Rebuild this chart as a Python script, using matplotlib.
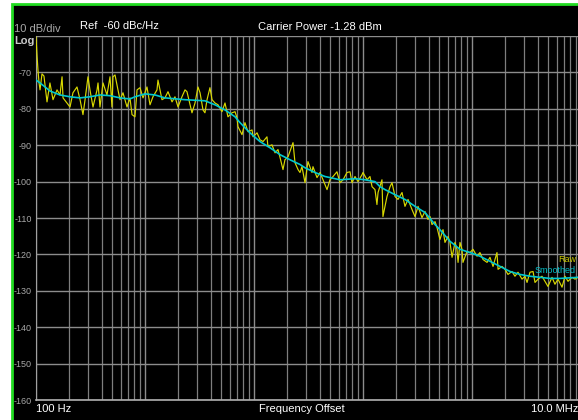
import matplotlib
matplotlib.use("Agg")
import matplotlib.pyplot as plt
from matplotlib.patches import Rectangle
from matplotlib.ticker import LogLocator, NullFormatter, FixedLocator

plt.rcParams['font.family'] = ['Liberation Sans', 'DejaVu Sans']

# ---------------- data (log10 of offset frequency in Hz, phase noise in dBc/Hz)
raw_log_freq = [
    2.000, 2.009, 2.018, 2.028, 2.037, 2.055, 2.073, 2.101, 2.128, 2.156,
    2.193, 2.220, 2.239, 2.248, 2.284, 2.312, 2.339, 2.376, 2.404, 2.431,
    2.450, 2.477, 2.495, 2.523, 2.560, 2.569, 2.587, 2.615, 2.651, 2.679,
    2.697, 2.706, 2.725, 2.752, 2.771, 2.798, 2.835, 2.862, 2.881, 2.908,
    2.927, 2.954, 2.982, 3.018, 3.046, 3.073, 3.110, 3.119, 3.156, 3.183,
    3.211, 3.248, 3.275, 3.303, 3.339, 3.367, 3.385, 3.413, 3.431, 3.459,
    3.486, 3.505, 3.532, 3.550, 3.569, 3.596, 3.615, 3.642, 3.670, 3.706,
    3.734, 3.761, 3.798, 3.826, 3.844, 3.853, 3.890, 3.917, 3.945, 3.982,
    3.991, 4.028, 4.055, 4.083, 4.119, 4.128, 4.165, 4.193, 4.220, 4.239,
    4.266, 4.284, 4.312, 4.358, 4.376, 4.404, 4.422, 4.440, 4.468, 4.495,
    4.532, 4.541, 4.578, 4.606, 4.633, 4.670, 4.697, 4.725, 4.761, 4.789,
    4.817, 4.853, 4.881, 4.899, 4.927, 4.954, 4.991, 5.000, 5.037, 5.064,
    5.083, 5.110, 5.128, 5.138, 5.174, 5.183, 5.220, 5.248, 5.266, 5.294,
    5.321, 5.358, 5.385, 5.413, 5.450, 5.477, 5.505, 5.541, 5.569, 5.596,
    5.615, 5.633, 5.661, 5.679, 5.706, 5.734, 5.752, 5.780, 5.798, 5.817,
    5.844, 5.862, 5.872, 5.890, 5.908, 5.917, 5.954, 5.982, 6.009, 6.046,
    6.073, 6.101, 6.138, 6.165, 6.193, 6.229, 6.239, 6.275, 6.303, 6.330,
    6.367, 6.394, 6.422, 6.459, 6.486, 6.505, 6.532, 6.560, 6.578, 6.606,
    6.642, 6.670, 6.697, 6.734, 6.761, 6.789, 6.826, 6.853, 6.881, 6.917,
    6.945, 6.972,
]
raw_dbc = [
    -60.3, -65.2, -69.3, -72.9, -74.8, -70.4, -71.0, -78.1, -72.9, -77.5,
    -74.8, -76.2, -71.2, -77.0, -78.4, -79.5, -75.6, -74.0, -77.5, -81.6,
    -77.5, -71.2, -74.8, -79.5, -74.8, -72.9, -79.5, -72.9, -76.2, -71.2,
    -79.5, -71.2, -70.7, -74.8, -77.5, -75.6, -79.5, -77.0, -81.6, -82.2,
    -74.8, -74.2, -77.0, -74.0, -78.9, -76.7, -74.8, -72.1, -77.5, -77.0,
    -75.3, -78.1, -76.7, -79.5, -76.7, -74.8, -75.3, -78.9, -81.1, -78.4,
    -74.0, -75.6, -80.3, -81.1, -77.5, -74.2, -77.5, -78.4, -78.9, -80.8,
    -78.4, -82.2, -81.1, -80.8, -82.5, -84.9, -87.1, -83.8, -86.3, -85.8,
    -87.7, -86.6, -88.5, -89.0, -87.7, -90.4, -89.9, -92.1, -91.2, -93.4,
    -96.7, -94.0, -93.2, -89.3, -94.8, -96.7, -97.5, -95.9, -100.3, -94.5,
    -97.5, -95.9, -98.9, -97.5, -99.5, -102.2, -99.5, -98.6, -97.3, -100.3,
    -99.5, -97.5, -97.3, -100.3, -98.6, -100.0, -98.1, -97.5, -99.5, -98.6,
    -101.4, -102.2, -106.3, -103.0, -99.5, -109.6, -104.1, -101.4, -100.3, -104.1,
    -104.9, -103.0, -106.8, -104.9, -107.7, -109.6, -106.8, -109.9, -108.2, -110.4,
    -109.6, -111.8, -111.0, -112.6, -115.9, -113.2, -116.7, -115.1, -116.7, -120.8,
    -116.7, -118.6, -122.2, -116.7, -118.6, -122.2, -119.2, -119.5, -118.6, -120.5,
    -119.5, -121.4, -122.2, -120.8, -123.3, -119.5, -124.1, -123.3, -124.1, -125.5,
    -124.7, -126.0, -124.9, -126.8, -126.0, -127.7, -124.9, -124.7, -127.7, -126.8,
    -126.0, -127.4, -128.8, -126.3, -128.2, -126.8, -129.0, -126.0, -127.4, -126.3,
    -126.8, -126.3,
]
smooth_log_freq = [
    2.000, 2.037, 2.083, 2.128, 2.220, 2.312, 2.404, 2.495, 2.587, 2.679,
    2.771, 2.862, 2.908, 3.000, 3.092, 3.183, 3.367, 3.550, 3.642, 3.734,
    3.826, 3.872, 3.963, 4.055, 4.147, 4.239, 4.330, 4.422, 4.468, 4.560,
    4.651, 4.789, 4.927, 5.018, 5.110, 5.156, 5.202, 5.294, 5.385, 5.477,
    5.569, 5.661, 5.706, 5.798, 5.890, 5.982, 6.073, 6.165, 6.257, 6.349,
    6.440, 6.532, 6.624, 6.716, 6.807, 6.972,
]
smooth_dbc = [
    -72.1, -72.9, -74.0, -75.1, -76.2, -76.7, -77.0, -76.7, -76.2, -76.4,
    -77.0, -77.3, -76.7, -75.9, -76.2, -77.0, -77.5, -77.8, -78.9, -80.3,
    -82.2, -83.8, -86.6, -89.0, -90.7, -92.6, -94.0, -95.3, -96.2, -97.5,
    -98.6, -99.5, -99.2, -99.5, -100.0, -101.4, -102.2, -103.6, -104.9, -106.8,
    -108.5, -111.8, -113.2, -116.4, -118.6, -119.5, -120.5, -121.9, -123.3, -124.7,
    -125.5, -126.0, -126.3, -126.6, -126.6, -126.3,
]
y_ticks = [-160, -150, -140, -130, -120, -110, -100, -90, -80, -70, -60]
y_tick_labels = ['-160', '-150', '-140', '-130', '-120', '-110', '-100', '-90', '-80', '-70', '']
series_labels = ['Raw', 'Smoothed']

# ---------------- figure
W, H = 578, 420
fig = plt.figure(figsize=(W / 100, H / 100), dpi=100, facecolor='white')

def fx(px):
    return px / W

def fy(py):
    return 1 - py / H

# black instrument panel with green frame
fig.patches.append(Rectangle((fx(12), -0.05), 1.2, fy(4) + 0.05,
                             transform=fig.transFigure, facecolor='black',
                             edgecolor='#22dd22', lw=2, zorder=-5))

ax = fig.add_axes([fx(36), fy(400), fx(581) - fx(36), fy(36) - fy(400)])
ax.set_facecolor('black')
ax.set_xscale('log')
ax.set_xlim(1e2, 1e7)
ax.set_ylim(-160, -60)

grid_c = '#7e7e7e'
ax.xaxis.set_major_locator(LogLocator(base=10, numticks=20))
ax.xaxis.set_minor_locator(LogLocator(base=10, subs=range(2, 10), numticks=100))
ax.xaxis.set_major_formatter(NullFormatter())
ax.xaxis.set_minor_formatter(NullFormatter())
ax.yaxis.set_major_locator(FixedLocator(y_ticks))
ax.set_yticklabels(y_tick_labels)
ax.grid(True, which='major', color='#8c8c8c', lw=1)
ax.grid(True, which='minor', axis='x', color=grid_c, lw=0.9)
ax.tick_params(axis='both', which='both', length=0)
ax.tick_params(axis='y', labelsize=6.5, labelcolor='#a8a8a8', pad=3)
for s in ['top', 'right']:
    ax.spines[s].set_visible(False)
ax.spines['left'].set_color('#a0a0a0')
ax.spines['bottom'].set_color('#b0b0b0')
ax.spines['bottom'].set_linewidth(1.2)

raw_f = [10 ** v for v in raw_log_freq]
sm_f = [10 ** v for v in smooth_log_freq]
ax.plot(raw_f, raw_dbc, color='#d8d800', lw=0.85, zorder=3)
ax.plot(sm_f, smooth_dbc, color='#00c8d0', lw=1.2, zorder=4)

# annotations
fig.text(fx(14), fy(32), '10 dB/div', color='#a8a8a8', fontsize=8, va='baseline')
fig.text(fx(14), fy(44), 'Log', color='#c8c8c8', fontsize=8, va='baseline', fontweight='bold')
fig.text(fx(80), fy(29), 'Ref  -60 dBc/Hz', color='white', fontsize=8, va='baseline')
fig.text(fx(258), fy(30), 'Carrier Power -1.28 dBm', color='white', fontsize=8, va='baseline')
fig.text(fx(36), fy(412), '100 Hz', color='white', fontsize=8, va='baseline')
fig.text(fx(302), fy(412), 'Frequency Offset', color='white', fontsize=8, va='baseline', ha='center')
fig.text(fx(578), fy(412), '10.0 MHz', color='white', fontsize=8, va='baseline', ha='right')
fig.text(fx(576), fy(262), series_labels[0], color='#c8c800', fontsize=6.5, va='baseline', ha='right')
fig.text(fx(576), fy(273), series_labels[1], color='#00c0c8', fontsize=6.5, va='baseline', ha='right')

fig.savefig('out.png', dpi=100, facecolor='white')
